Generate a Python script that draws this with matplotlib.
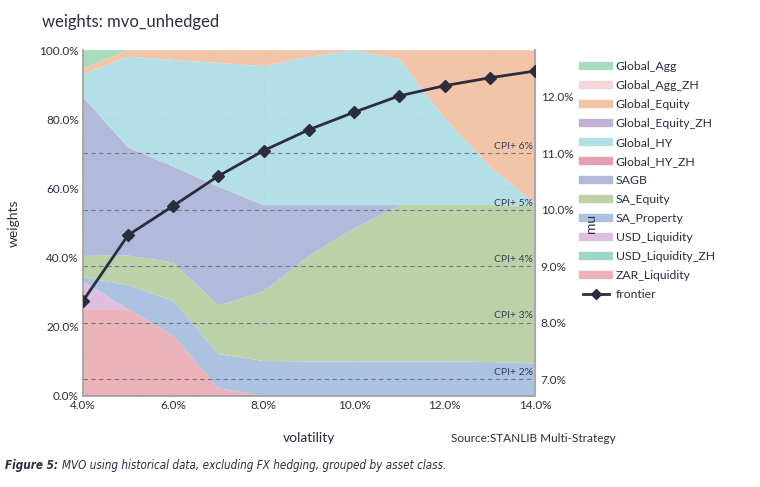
import matplotlib
matplotlib.use("Agg")
import matplotlib.pyplot as plt
from matplotlib import font_manager
from matplotlib.font_manager import FontProperties
from matplotlib.ticker import FuncFormatter
from matplotlib.lines import Line2D

plt.rcParams['font.family'] = ['Lato', 'DejaVu Sans']

# volatility grid (%)
vol = [4, 5, 6, 7, 8, 9, 10, 11, 12, 13, 14]

# expected return of frontier portfolios (%)
mu = [8.38, 9.55, 10.07, 10.60, 11.05, 11.42, 11.73, 12.02, 12.20, 12.34, 12.46]

# weights (%) per asset class
global_agg = [5.3, 0, 0, 0, 0, 0, 0, 0, 0, 0, 0]
global_agg_zh = [0] * 11
global_equity = [1.7, 1.9, 2.8, 3.7, 4.6, 1.9, 0, 2.6, 19.7, 33.7, 44.3]
global_equity_zh = [0] * 11
global_hy = [6.5, 26.2, 30.9, 35.8, 40.2, 42.9, 44.8, 42.2, 25.1, 11.1, 0.7]
global_hy_zh = [0] * 11
sagb = [46.0, 31.3, 27.7, 34.4, 24.9, 14.7, 6.7, 0, 0, 0, 0]
sa_equity = [6.2, 8.5, 11.1, 14.0, 20.2, 30.5, 38.5, 45.2, 45.2, 45.4, 45.6]
sa_property = [1.1, 7.0, 10.1, 9.9, 10.1, 10.0, 10.0, 10.0, 10.0, 9.8, 9.4]
usd_liquidity = [8.1, 0, 0, 0, 0, 0, 0, 0, 0, 0, 0]
usd_liquidity_zh = [0] * 11
zar_liquidity = [25.1, 25.1, 17.4, 2.2, 0, 0, 0, 0, 0, 0, 0]

# legend order (top to bottom); stacked in reverse
names = ['Global_Agg', 'Global_Agg_ZH', 'Global_Equity', 'Global_Equity_ZH',
         'Global_HY', 'Global_HY_ZH', 'SAGB', 'SA_Equity', 'SA_Property',
         'USD_Liquidity', 'USD_Liquidity_ZH', 'ZAR_Liquidity']
series = [global_agg, global_agg_zh, global_equity, global_equity_zh,
          global_hy, global_hy_zh, sagb, sa_equity, sa_property,
          usd_liquidity, usd_liquidity_zh, zar_liquidity]
colors = ['#a8dcbc', '#f3d5d7', '#f2c5a8', '#c1b1d6', '#b3dfe7', '#e3a0b0',
          '#b2badb', '#bcd1a7', '#abc2e1', '#dcc0dd', '#9ed8c8', '#ecb2b9']

# CPI + x% target lines
cpi = 5.0
cpi_spreads = [2, 3, 4, 5, 6]

caption_lead = 'Figure 5:'
caption_rest = 'MVO using historical data, excluding FX hedging, grouped by asset class.'

txt = '#2b2d42'


def condensed_font(bold):
    # look for a narrow / condensed italic face for the caption
    for f in font_manager.fontManager.ttflist:
        narrow = ('narrow' in f.name.lower() or 'condensed' in f.name.lower()
                  or 'condensed' in str(f.stretch))
        if not narrow or f.style not in ('italic', 'oblique'):
            continue
        is_bold = f.weight in ('bold', 700, 'semibold', 600)
        if is_bold == bold:
            return FontProperties(fname=f.fname)
    return FontProperties(family='Lato', style='italic',
                          weight='bold' if bold else 'normal')


fig = plt.figure(figsize=(7.6, 4.87), dpi=100)
ax = fig.add_axes([0.109, 0.187, 0.595, 0.710])

ax.stackplot(vol, series[::-1], colors=colors[::-1], linewidth=0)
ax.set_xlim(4, 14)
ax.set_ylim(0, 100)
ax.set_xticks([4, 6, 8, 10, 12, 14])
ax.set_yticks([0, 20, 40, 60, 80, 100])
ax.xaxis.set_major_formatter(FuncFormatter(lambda v, p: f'{v:.1f}%'))
ax.yaxis.set_major_formatter(FuncFormatter(lambda v, p: f'{v:.1f}%'))
ax.grid(True, color='#c8c8c8', linestyle=':', linewidth=0.8, alpha=0.6)
ax.set_axisbelow(False)
ax.tick_params(length=0, labelsize=8.5, colors=txt, pad=3)
for s in ['top', 'right']:
    ax.spines[s].set_visible(False)
for s in ['left', 'bottom']:
    ax.spines[s].set_color('#999999')
    ax.spines[s].set_linewidth(1.2)

ax.set_xlabel('volatility', fontsize=10, color=txt, labelpad=15)
ax.set_ylabel('weights', fontsize=10, color=txt, labelpad=14)

ax2 = ax.twinx()
ax2.set_ylim(6.70, 12.83)
ax2.set_yticks([7, 8, 9, 10, 11, 12])
ax2.yaxis.set_major_formatter(FuncFormatter(lambda v, p: f'{v:.1f}%'))
ax2.tick_params(length=0, labelsize=8.5, colors=txt, pad=4)
for s in ['top', 'left', 'bottom']:
    ax2.spines[s].set_visible(False)
ax2.spines['right'].set_color('#aaaaaa')
ax2.spines['right'].set_linewidth(1.5)

for sp in cpi_spreads:
    lvl = cpi + sp
    ax2.axhline(lvl, color='#777788', linestyle='--', linewidth=0.8, dashes=(4, 3))
    ax2.text(13.96, lvl + 0.04, f'CPI+ {sp}%', ha='right', va='bottom',
             fontsize=7.5, color='#3a3c50')

ax2.plot(vol, mu, color='#2b2d3e', linewidth=2, marker='D', markersize=6,
         zorder=5)

handles = [Line2D([0], [0], color=c, linewidth=6) for c in colors]
handles.append(Line2D([0], [0], color='#2b2d3e', linewidth=2, marker='D',
                      markersize=5))
fig.legend(handles, names + ['frontier'], loc='upper left',
           bbox_to_anchor=(0.752, 0.897), frameon=False, fontsize=8.8,
           labelcolor=txt, handlelength=2.2, labelspacing=0.655,
           handletextpad=0.5)

# right axis label sits over the legend handles, as in the source figure
fig.text(0.778, 0.542, 'mu', rotation=90, fontsize=10, color=txt,
         ha='center', va='center', zorder=10)

fig.text(0.055, 0.955, 'weights: mvo_unhedged', fontsize=12, color=txt,
         ha='left', va='center')
fig.text(0.593, 0.1, 'Source:STANLIB Multi-Strategy', fontsize=8.5,
         color=txt, ha='left', va='center')

# caption: bold-italic lead + italic rest, sized to span ~440 px
fp_bold = condensed_font(True)
fp_ital = condensed_font(False)
cap_size = 11.5
cap1 = fig.text(0.006, 0.045, caption_lead, fontproperties=fp_bold,
                fontsize=cap_size, color=txt, ha='left', va='center')
cap2 = fig.text(0.1, 0.045, caption_rest, fontproperties=fp_ital,
                fontsize=cap_size, color=txt, ha='left', va='center')
fig.canvas.draw()
total = (cap1.get_window_extent().width + 4 + cap2.get_window_extent().width)
cap_size = min(cap_size, cap_size * 440 / total)
cap1.set_fontsize(cap_size)
cap2.set_fontsize(cap_size)
fig.canvas.draw()
bb = cap1.get_window_extent()
cap2.set_x((bb.x1 + 4) / fig.bbox.width)

fig.savefig('out.png', dpi=100)
